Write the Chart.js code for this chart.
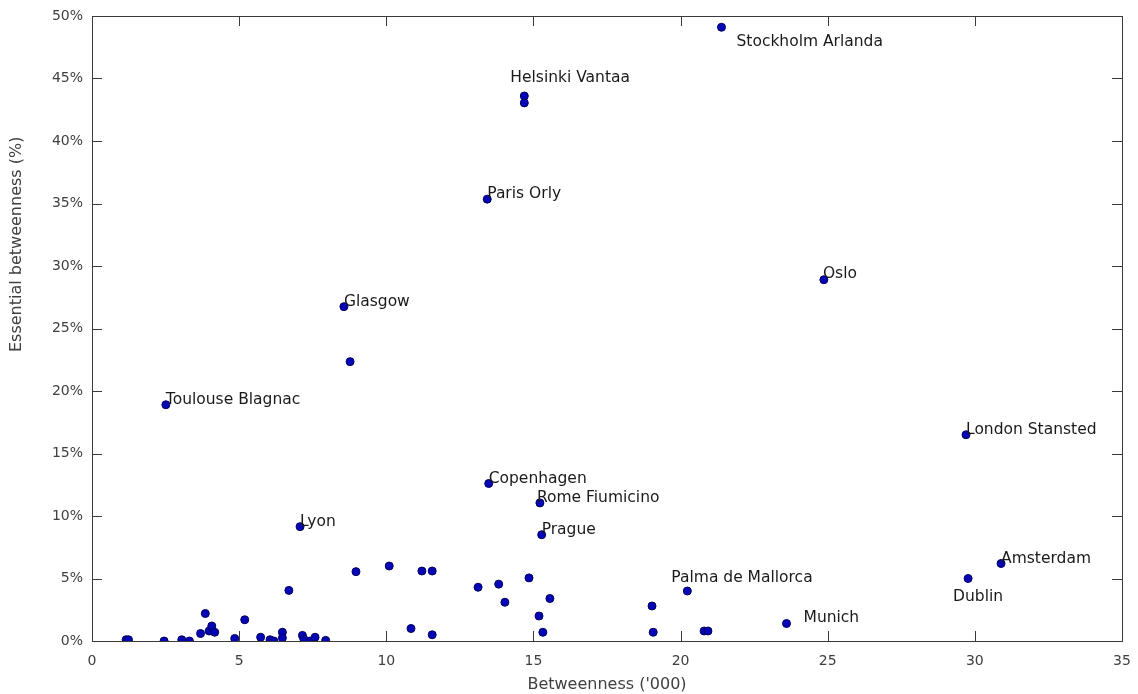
<!DOCTYPE html>
<html>
<head>
<meta charset="utf-8">
<script src="https://cdn.jsdelivr.net/npm/chart.js@4/dist/chart.umd.min.js"></script>
<style>
html,body{margin:0;padding:0;background:#fff;}
#wrap{width:1138px;height:694px;}
</style>
</head>
<body>
<div id="wrap"><canvas id="c" width="1138" height="694"></canvas></div>
<script>
// ---- data ----
const airportNames = [
  'Stockholm Arlanda','Helsinki Vantaa','','Paris Orly','Oslo','Glasgow','','Toulouse Blagnac',
  'London Stansted','Copenhagen','Rome Fiumicino','Lyon','Prague','Amsterdam','Dublin',
  'Palma de Mallorca','Munich',
  '','','','','','','','','','','','','','','','','','','','','','','','','','','','','','',
  '','','','','','','','','','','','','','',''
];
const betweenness = [
  21.39,14.69,14.69,13.43,24.87,8.56,8.77,2.51,
  29.70,13.48,15.22,7.07,15.28,30.89,29.77,
  20.23,23.60,
  1.16,1.24,2.45,3.05,3.31,3.69,3.85,3.98,4.07,4.17,4.85,5.19,5.73,6.05,6.18,6.47,6.47,6.69,
  7.15,7.20,7.41,7.58,7.94,8.97,10.10,10.84,11.21,11.56,11.56,
  13.12,13.82,14.03,14.85,15.19,15.32,15.56,19.03,19.07,20.80,20.93
];
const essentialPct = [
  49.1,43.6,43.05,35.35,28.9,26.75,22.35,18.9,
  16.5,12.6,11.05,9.15,8.5,6.2,5.0,
  4.0,1.4,
  0.1,0.1,0.0,0.1,0.0,0.6,2.2,0.8,1.2,0.7,0.2,1.7,0.3,0.1,0.0,0.7,0.25,4.05,
  0.45,0.15,0.0,0.3,0.05,5.55,6.0,1.0,5.6,5.6,0.5,
  4.3,4.55,3.1,5.05,2.0,0.7,3.4,2.8,0.7,0.8,0.8
];
const xTicks = [0,5,10,15,20,25,30,35];
const yTicks = [0,5,10,15,20,25,30,35,40,45,50];
const xTitle = "Betweenness ('000)";
const yTitle = 'Essential betweenness (%)';

// ---- styles ----
const labelOffsets = {
  'Stockholm Arlanda':[15,15],
  'Helsinki Vantaa':[-14,-18],
  'Dublin':[-15,18],
  'Palma de Mallorca':[-16,-13],
  'Munich':[17,-6],
  'Rome Fiumicino':[-3,-5],
  'Oslo':[-1,-6]
};
const defaultOffset = [0,-5];
const FONT = "'DejaVu Sans', sans-serif";
const yTitlePos = {x:17, bottom:352};

const points = betweenness.map((x,i)=>({x:x, y:essentialPct[i]}));

const framePlugin = {
  id:'frame',
  afterDatasetsDraw(chart){
    const {ctx, chartArea:a, scales:{x, y}} = chart;
    ctx.save();
    ctx.strokeStyle = '#3a3a3a';
    ctx.lineWidth = 1;
    ctx.strokeRect(Math.round(a.left)+0.5, Math.round(a.top)+0.5, Math.round(a.right-a.left), Math.round(a.bottom-a.top));
    const L = 10;
    ctx.beginPath();
    xTicks.forEach(v=>{
      if (v===xTicks[0] || v===xTicks[xTicks.length-1]) return;
      const px = Math.round(x.getPixelForValue(v))+0.5;
      ctx.moveTo(px, a.bottom); ctx.lineTo(px, a.bottom-L);
      ctx.moveTo(px, a.top); ctx.lineTo(px, a.top+L);
    });
    yTicks.forEach(v=>{
      if (v===yTicks[0] || v===yTicks[yTicks.length-1]) return;
      const py = Math.round(y.getPixelForValue(v))+0.5;
      ctx.moveTo(a.left, py); ctx.lineTo(a.left+L, py);
      ctx.moveTo(a.right, py); ctx.lineTo(a.right-L, py);
    });
    ctx.stroke();
    // y axis title
    ctx.save();
    ctx.translate(yTitlePos.x, yTitlePos.bottom);
    ctx.rotate(-Math.PI/2);
    ctx.font = '16px ' + FONT;
    ctx.fillStyle = '#404040';
    ctx.textAlign = 'left';
    ctx.textBaseline = 'middle';
    ctx.fillText(yTitle, 0, 0);
    ctx.restore();
    // point labels
    const meta = chart.getDatasetMeta(0);
    ctx.font = '15.5px ' + FONT;
    ctx.fillStyle = '#1a1a1a';
    ctx.textAlign = 'left';
    ctx.textBaseline = 'middle';
    airportNames.forEach((n,i)=>{
      if (!n) return;
      const el = meta.data[i];
      const off = labelOffsets[n] || defaultOffset;
      ctx.fillText(n, el.x + off[0], el.y + off[1]);
    });
    ctx.restore();
  }
};

new Chart(document.getElementById('c'), {
  type:'scatter',
  data:{datasets:[{
    data: points,
    backgroundColor:'#0606b8',
    borderColor:'#00005a',
    borderWidth:1,
    pointRadius:4,
    pointHoverRadius:4
  }]},
  options:{
    responsive:false,
    animation:false,
    events:[],
    layout:{padding:{top:16,right:16,left:0,bottom:0}},
    plugins:{legend:{display:false},tooltip:{enabled:false}},
    scales:{
      x:{
        type:'linear', min:0, max:35,
        afterBuildTicks(s){ s.ticks = xTicks.map(v=>({value:v})); },
        afterFit(s){ s.height = 53; s.paddingLeft = 0; s.paddingRight = 0; },
        grid:{display:false, drawTicks:false},
        border:{display:false},
        ticks:{padding:12, color:'#404040', font:{family:FONT, size:14}, maxRotation:0, callback:v=>String(v)},
        title:{display:true, text:xTitle, color:'#404040', font:{family:FONT, size:16}, padding:{top:1,bottom:0}}
      },
      y:{
        type:'linear', min:0, max:50,
        afterBuildTicks(s){ s.ticks = yTicks.map(v=>({value:v})); },
        afterFit(s){ s.width = 92; s.paddingTop = 0; s.paddingBottom = 0; },
        grid:{display:false, drawTicks:false},
        border:{display:false},
        ticks:{padding:9, color:'#404040', font:{family:FONT, size:14}, callback:v=>v+'%'},
        title:{display:false}
      }
    }
  },
  plugins:[framePlugin]
});
</script>
</body>
</html>
